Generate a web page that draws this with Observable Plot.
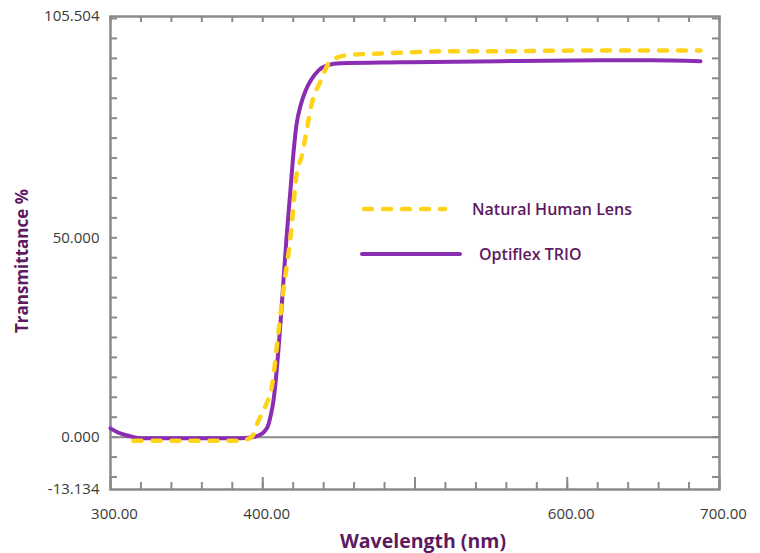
<!DOCTYPE html>
<html>
<head>
<meta charset="utf-8">
<script src="https://cdn.jsdelivr.net/npm/d3@7"></script>
<script src="https://cdn.jsdelivr.net/npm/@observablehq/plot@0.6"></script>
<style>
  html, body { margin: 0; padding: 0; background: #fff; }
  #wrap { position: relative; width: 760px; height: 553px; font-family: "Open Sans", sans-serif; }
  #legend { position: absolute; left: 0; top: 0; pointer-events: none; }
</style>
</head>
<body>
<div id="wrap"></div>
<script>
// Natural Human Lens (yellow dashed)
const lensWavelength = [315.1, 385.4, 390.6, 393.3, 396.4, 401.8, 406.2, 410.3, 413.6, 418.2, 422.2, 425.9, 428.1, 432.5, 437.9, 444.5, 455.7, 490.5, 518.7, 556.2, 621.8, 687.5];
const lensT          = [-0.9, -0.9, -0.4, 0.3, 3.4, 7.8, 13.2, 26.3, 37, 50, 65.8, 70.9, 75.4, 84.1, 89.2, 94.3, 95.8, 96.4, 96.8, 96.8, 97.0, 97.0];

// Optiflex TRIO (purple solid)
const trioWavelength = [300.0, 305.3, 311.2, 319.7, 359.1, 385.4, 392.0, 397.2, 401.1, 403.8, 405.1, 407.1, 408.4, 411.7, 415.6, 418.2, 420.2, 422.2, 424.8, 428.1, 431.4, 436.7, 442.6, 451.1, 490.5, 556.2, 621.8, 654.7, 687.5];
const trioT          = [2.2, 1.1, 0.4, -0.25, -0.25, -0.25, -0.1, 0.4, 1.4, 3.2, 5.2, 9.3, 13.6, 28.9, 50, 62, 71.4, 78.5, 83.1, 86.9, 89.4, 92, 93.3, 93.8, 94.0, 94.3, 94.5, 94.5, 94.3];

const seriesNames = ["Natural Human Lens", "Optiflex TRIO"];
const xTickLabels = [300, 400, 600, 700];
const yTickLabels = [-13.134, 0, 50, 105.504];
const xDomain = [300, 700];
const yDomain = [-13.134, 105.504];
const xMinorTicks = d3.range(300, 701, 20);
const xMajorTicks = d3.range(300, 701, 100);
const yMinorTicks = d3.range(-10, 106, 5);

const lens = lensWavelength.map((w, i) => ({w, t: lensT[i]}));
const trio = trioWavelength.map((w, i) => ({w, t: trioT[i]}));

const W = 760, H = 553;
const mL = 110, mR = 41, mT = 16, mB = 64;
const innerW = W - mL - mR, innerH = H - mT - mB;

const purple = "#8b2db3";
const yellow = "#ffd31a";
const titleColor = "#5e1a60";
const gridGrey = "#8a8a8a";

const chart = Plot.plot({
  width: W,
  height: H,
  marginLeft: mL, marginRight: mR, marginTop: mT, marginBottom: mB,
  style: {fontFamily: "'Open Sans', sans-serif", fontSize: "14px", color: "#3a3a3a", background: "#fff"},
  x: {domain: xDomain, axis: null},
  y: {domain: yDomain, axis: null},
  marks: [
    // tick marks (inward)
    Plot.ruleX(xMinorTicks, {x: d => d, stroke: gridGrey, strokeWidth: 2, insetTop: innerH - 7}),
    Plot.ruleX(xMajorTicks, {x: d => d, stroke: gridGrey, strokeWidth: 2, insetTop: innerH - 12}),
    Plot.ruleX(xMinorTicks, {x: d => d, stroke: gridGrey, strokeWidth: 2, insetBottom: innerH - 6}),
    Plot.ruleY(yMinorTicks, {y: d => d, stroke: gridGrey, strokeWidth: 2, insetRight: innerW - 7}),
    Plot.ruleY(yMinorTicks, {y: d => d, stroke: gridGrey, strokeWidth: 2, insetLeft: innerW - 7}),
    Plot.ruleY([0], {stroke: gridGrey, strokeWidth: 2}),
    Plot.frame({stroke: gridGrey, strokeWidth: 2.5}),
    Plot.axisX({ticks: xTickLabels, tickSize: 0, tickPadding: 19, dx: 4, tickFormat: d => d.toFixed(2), label: null, fontSize: 15, fill: "#3a3a3a"}),
    Plot.axisY({ticks: yTickLabels, tickSize: 0, tickPadding: 11, tickFormat: d => d.toFixed(3), label: null, fontSize: 15, fill: "#3a3a3a"}),
    // curves
    Plot.line(trio, {x: "w", y: "t", stroke: purple, strokeWidth: 4, curve: "monotone-x"}),
    Plot.line(lens, {x: "w", y: "t", stroke: yellow, strokeWidth: 4.5, strokeDasharray: "8,11", strokeLinecap: "round", curve: "monotone-x"}),
    // axis titles
    Plot.text(["Wavelength (nm)"], {frameAnchor: "bottom", textAnchor: "middle", dx: 8, dy: 58, text: d => d, fill: titleColor, fontSize: 19.5, fontWeight: "bold"}),
    Plot.text(["Transmittance %"], {frameAnchor: "left", textAnchor: "middle", dx: -88, dy: 8, rotate: -90, text: d => d, fill: titleColor, fontSize: 17, fontWeight: "bold"})
  ]
});

const wrap = document.getElementById("wrap");
wrap.appendChild(chart);

// legend overlay inside the plot area
const ns = "http://www.w3.org/2000/svg";
const leg = d3.create("svg").attr("id", "legend").attr("width", W).attr("height", H)
  .attr("xmlns", ns);
const legendItems = [
  {name: seriesNames[0], color: yellow, dash: "8,11", x1: 364, x2: 445, y: 209, tx: 472, width: 4.5},
  {name: seriesNames[1], color: purple, dash: null, x1: 362, x2: 460, y: 254, tx: 479, width: 4}
];
for (const it of legendItems) {
  leg.append("line").attr("x1", it.x1).attr("x2", it.x2).attr("y1", it.y).attr("y2", it.y)
    .attr("stroke", it.color).attr("stroke-width", it.width)
    .attr("stroke-linecap", "round")
    .attr("stroke-dasharray", it.dash);
  leg.append("text").attr("x", it.tx).attr("y", it.y + 6)
    .attr("fill", titleColor).attr("font-size", 16).attr("font-weight", 600)
    .attr("font-family", "'Open Sans', sans-serif")
    .text(it.name);
}
wrap.appendChild(leg.node());
</script>
</body>
</html>
